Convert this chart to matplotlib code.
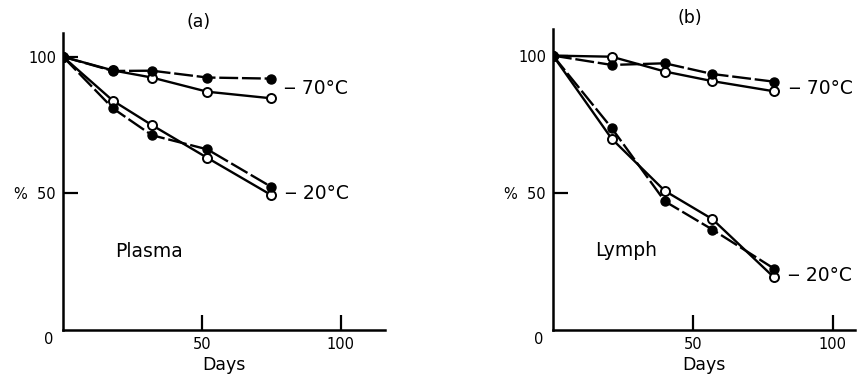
import matplotlib
matplotlib.use('Agg')
import matplotlib.pyplot as plt

plt.rcParams['font.family'] = ['DejaVu Sans']

# (a) Plasma
days_a = [0, 18, 32, 52, 75]
plasma_70_filled = [100, 94.8, 94.9, 92.4, 92.0]
plasma_70_open = [100, 95.0, 92.4, 87.2, 84.8]
plasma_20_filled = [100, 81.1, 71.3, 66.1, 52.4]
plasma_20_open = [100, 83.9, 75.0, 63.0, 49.4]

# (b) Lymph
days_b = [0, 21, 40, 57, 79]
lymph_70_filled = [100, 96.6, 97.2, 93.3, 90.5]
lymph_70_open = [100, 99.6, 94.2, 90.7, 87.0]
lymph_20_filled = [100, 73.6, 46.9, 36.6, 22.4]
lymph_20_open = [100, 69.7, 50.7, 40.4, 19.2]

fig = plt.figure(figsize=(8.62, 3.80), dpi=100)
ax_a = fig.add_axes([0.0731, 0.1316, 0.3735, 0.7816])
ax_b = fig.add_axes([0.6415, 0.1316, 0.3504, 0.7921])


def draw(ax, days, f70, o70, f20, o20, xmax, ymax, name, tag, lab70, lab20, name_pos):
    for o, f in [(o70, f70), (o20, f20)]:
        ax.plot(days, o, color='black', lw=1.7, marker='o', ms=6.5,
                mfc='white', mec='black', mew=1.4, zorder=3)
        ax.plot(days, f, color='black', lw=1.7, ls=(0, (8, 1.6)), marker='o',
                ms=6.5, mfc='black', mec='black', zorder=4)
    ax.set_xlim(0, xmax)
    ax.set_ylim(0, ymax)
    for s in ['top', 'right']:
        ax.spines[s].set_visible(False)
    for s in ['left', 'bottom']:
        ax.spines[s].set_linewidth(1.8)
    ax.set_xticks([50, 100])
    ax.set_yticks([50, 100])
    ax.set_yticklabels(['%  50', '100'])
    ax.tick_params(direction='in', length=11, width=1.6, labelsize=10.5, pad=5)
    ax.annotate('0', xy=(0, 0), xytext=(-10, -7), textcoords='offset points',
                ha='center', va='center', fontsize=10.5)
    ax.set_xlabel('Days', fontsize=12.5, labelpad=3)
    ax.text(49, ymax + 4, tag, ha='center', va='center', fontsize=12.5, clip_on=False)
    ax.text(lab70[0], lab70[1], '\u2012 70°C', ha='left', va='center', fontsize=13.5)
    ax.text(lab20[0], lab20[1], '\u2012 20°C', ha='left', va='center', fontsize=13.5)
    ax.text(name_pos[0], name_pos[1], name, ha='left', va='center', fontsize=13.5)


draw(ax_a, days_a, plasma_70_filled, plasma_70_open, plasma_20_filled, plasma_20_open,
     116, 108.7, 'Plasma', '(a)', (79.5, 88.4), (80, 50), (18.7, 28.7))
draw(ax_b, days_b, lymph_70_filled, lymph_70_open, lymph_20_filled, lymph_20_open,
     108, 109.7, 'Lymph', '(b)', (84.5, 88), (84, 20), (15, 29))

fig.savefig('out.png', dpi=100)
